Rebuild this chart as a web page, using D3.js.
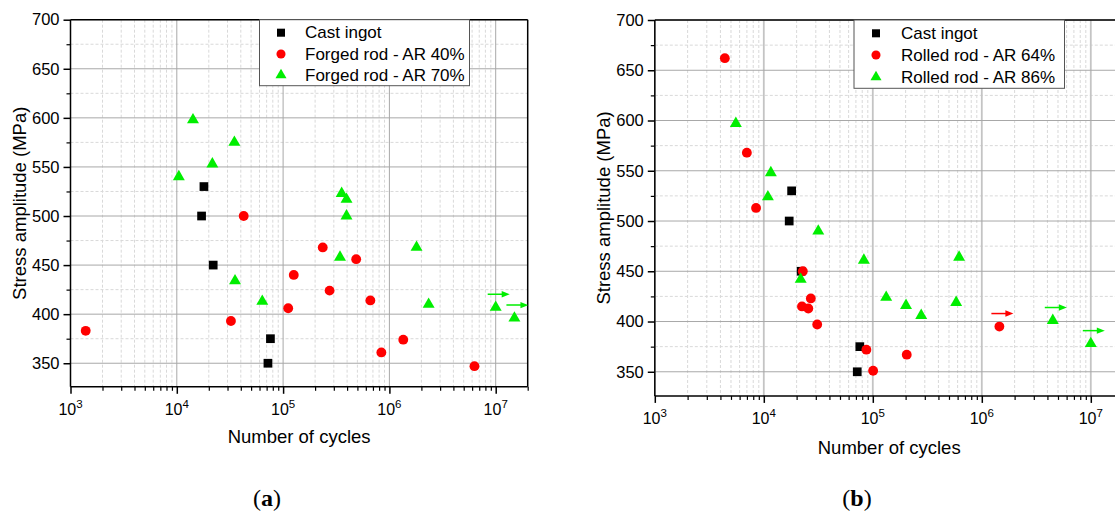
<!DOCTYPE html>
<html>
<head>
<meta charset="utf-8">
<script src="https://cdn.jsdelivr.net/npm/d3@7"></script>
<style>
  html, body { margin: 0; padding: 0; background: #fff; }
  svg { display: block; }
</style>
</head>
<body>
<svg id="fig" width="1115" height="511"></svg>
<script>
// ---- data: fatigue tests (cycles to failure, stress amplitude in MPa) ----
const castN = [18000, 17100, 22000, 76000, 72000];
const castS = [530, 500, 450, 375, 350];

const forged40N = [1390, 32300, 42600, 111700, 126000, 236000, 273700, 487000, 662000, 840000, 1350000, 6310000];
const forged40S = [383, 393, 500, 406, 440, 468, 424, 456, 414, 361, 374, 347];

const forged70N = [10450, 14200, 21600, 34800, 35300, 63700, 343000, 355600, 395000, 395000, 1800000, 2340000, 10000000, 15000000];
const forged70S = [540, 598, 553, 575, 434, 413, 458, 523, 517, 500, 468, 410, 407, 396];
const forged70Runout = [10000000, 15000000];
const forged70RunoutS = [407, 396];

const rolled64N = [4390, 6990, 8490, 22800, 22400, 25600, 27000, 30900, 87300, 100700, 204800, 1450000];
const rolled64S = [662, 568, 513, 450, 415, 413, 423, 397, 372, 351, 367, 395];
const rolled64Runout = [1450000];
const rolled64RunoutS = [395];

const rolled86N = [5540, 10900, 11600, 21800, 31600, 82800, 132700, 201700, 278000, 582000, 619000, 4480000, 10000000];
const rolled86S = [597, 524, 548, 442, 490, 461, 424, 416, 406, 419, 464, 401, 378];
const rolled86Runout = [4480000, 10000000];
const rolled86RunoutS = [401, 378];

const xDomain = [1e3, 2e7];
const yDomain = [326, 700];
const yMajorTicks = [350, 400, 450, 500, 550, 600, 650, 700];
const xMajorExp = [3, 4, 5, 6, 7];

const legendA = ["Cast ingot", "Forged rod - AR 40%", "Forged rod - AR 70%"];
const legendB = ["Cast ingot", "Rolled rod - AR 64%", "Rolled rod - AR 86%"];

// ---- styling ----
const FONT = "'Liberation Sans', Arial, sans-serif";
const colors = { cast: "#000000", red: "#ff0000", green: "#00ee00" };
const shapes = { cast: d3.symbolSquare, red: d3.symbolCircle, green: d3.symbolTriangle };
const sizes = { cast: 76, red: 76, green: 62 };

const svg = d3.select("#fig");

function zip(a, b) { return a.map((v, i) => [v, b[i]]); }

function drawPanel(p) {
  const x = d3.scaleLog().domain(xDomain).range([p.x0, p.x0 + p.decade * Math.log10(xDomain[1] / xDomain[0])]);
  const y = d3.scaleLinear().domain(yDomain).range([p.yBottom, p.yTop]);
  const g = svg.append("g");
  const [xl, xr] = x.range();
  const clipId = "clip" + p.id;
  svg.append("clipPath").attr("id", clipId)
    .append("rect").attr("x", xl).attr("y", p.yTop - 10).attr("width", xr - xl).attr("height", p.yBottom - p.yTop + 10);

  // minor grid
  const minorX = [];
  for (let e = 3; e <= 7; e++) for (let k = 2; k <= 9; k++) {
    const v = k * Math.pow(10, e);
    if (v <= xDomain[1]) minorX.push(v);
  }
  const minorY = d3.range(375, 700, 50);
  const grid = g.append("g").attr("clip-path", `url(#${clipId})`);
  grid.selectAll(".mx").data(minorX).join("line")
    .attr("x1", d => x(d)).attr("x2", d => x(d)).attr("y1", p.yTop).attr("y2", p.yBottom)
    .attr("stroke", "#d9d9d9").attr("stroke-width", 1).attr("stroke-dasharray", "3,2");
  grid.selectAll(".my").data(minorY).join("line")
    .attr("x1", xl).attr("x2", xr).attr("y1", d => y(d)).attr("y2", d => y(d))
    .attr("stroke", "#d9d9d9").attr("stroke-width", 1).attr("stroke-dasharray", "3,2");
  // major grid
  grid.selectAll(".Mx").data(xMajorExp.map(e => Math.pow(10, e))).join("line")
    .attr("x1", d => x(d)).attr("x2", d => x(d)).attr("y1", p.yTop).attr("y2", p.yBottom)
    .attr("stroke", p.gridV).attr("stroke-width", p.gridVW);
  grid.selectAll(".My").data(yMajorTicks).join("line")
    .attr("x1", xl).attr("x2", xr).attr("y1", d => y(d)).attr("y2", d => y(d))
    .attr("stroke", "#a8a8a8").attr("stroke-width", 1);

  // frame
  g.append("line").attr("x1", xl).attr("x2", xr).attr("y1", p.yTop).attr("y2", p.yTop)
    .attr("stroke", "#000").attr("stroke-width", 1.5);
  g.append("line").attr("x1", xr).attr("x2", xr).attr("y1", p.yTop).attr("y2", p.yBottom)
    .attr("stroke", "#000").attr("stroke-width", 1.5);

  // bottom axis
  const xAxis = d3.axisBottom(x).tickValues(xMajorExp.map(e => Math.pow(10, e)))
    .tickSize(7).tickFormat(() => "");
  const xa = g.append("g").attr("transform", `translate(0,${p.yBottom})`).call(xAxis);
  xa.select(".domain").attr("stroke-width", 1.5).attr("d", `M${xl},0H${xr}`);
  xa.selectAll(".tick line").attr("stroke-width", 1.5);
  const xMinorAxis = d3.axisBottom(x).tickValues(minorX).tickSize(4).tickFormat(() => "");
  const xm = g.append("g").attr("transform", `translate(0,${p.yBottom})`).call(xMinorAxis);
  xm.select(".domain").remove();
  xm.selectAll(".tick line").attr("stroke-width", 1.2);
  const xt = g.append("g").selectAll("text").data(xMajorExp).join("text")
    .attr("x", d => x(Math.pow(10, d))).attr("y", p.yBottom + 28)
    .attr("text-anchor", "middle").attr("font-family", FONT).attr("font-size", 16).attr("fill", "#000");
  xt.append("tspan").text("10");
  xt.append("tspan").attr("dy", -7).attr("font-size", 11.5).text(d => d);

  // left axis
  const yAxis = d3.axisLeft(y).tickValues(yMajorTicks).tickSize(7).tickPadding(4).tickFormat(d3.format("d"));
  const ya = g.append("g").attr("transform", `translate(${xl},0)`).call(yAxis);
  ya.select(".domain").attr("stroke-width", 1.5).attr("d", `M0,${p.yTop}V${p.yBottom}`);
  ya.selectAll(".tick line").attr("stroke-width", 1.5);
  ya.selectAll(".tick text").attr("font-family", FONT).attr("font-size", 16.5).attr("fill", "#000");
  const yMinorAxis = d3.axisLeft(y).tickValues(minorY).tickSize(4).tickFormat(() => "");
  const ym = g.append("g").attr("transform", `translate(${xl},0)`).call(yMinorAxis);
  ym.select(".domain").remove();
  ym.selectAll(".tick line").attr("stroke-width", 1.2);

  // axis titles
  g.append("text").attr("x", (xl + xr) / 2).attr("y", p.yBottom + p.xTitleDy)
    .attr("text-anchor", "middle").attr("font-family", FONT).attr("font-size", 18.5).text("Number of cycles");
  g.append("text").attr("transform", `translate(${p.yTitleX},${(p.yTop + p.yBottom) / 2}) rotate(-90)`)
    .attr("text-anchor", "middle").attr("dominant-baseline", "central")
    .attr("font-family", FONT).attr("font-size", 18.5).text("Stress amplitude (MPa)");

  // panel letter
  const lab = svg.append("text").attr("x", p.labelX).attr("y", 506)
    .attr("text-anchor", "middle").attr("font-family", "'Liberation Serif', 'DejaVu Serif', serif").attr("font-size", 24);
  lab.append("tspan").text("(");
  lab.append("tspan").attr("font-weight", "bold").text(p.letter);
  lab.append("tspan").text(")");

  // runout arrows
  const arrows = g.append("g").attr("clip-path", `url(#${clipId})`);
  p.runouts.forEach(r => {
    zip(r.n, r.s).forEach(([n, s]) => {
      const ax = x(n) - 8, ay = y(s) - 13, len = 22;
      arrows.append("line").attr("x1", ax).attr("x2", ax + len - 6).attr("y1", ay).attr("y2", ay)
        .attr("stroke", r.color).attr("stroke-width", 1.5);
      arrows.append("path").attr("d", `M${ax + len},${ay}L${ax + len - 8},${ay - 3.2}L${ax + len - 8},${ay + 3.2}Z`)
        .attr("fill", r.color);
    });
  });

  // markers
  const pts = g.append("g");
  p.series.forEach(sr => {
    pts.append("g").selectAll("path").data(zip(sr.n, sr.s)).join("path")
      .attr("transform", d => `translate(${x(d[0])},${y(d[1])})`)
      .attr("d", d3.symbol().type(shapes[sr.key]).size(sizes[sr.key]))
      .attr("fill", colors[sr.key]);
  });

  // legend
  const lg = g.append("g");
  lg.append("rect").attr("x", p.leg.x).attr("y", p.yTop).attr("width", p.leg.w).attr("height", p.leg.h)
    .attr("fill", "#fff").attr("stroke", "#555").attr("stroke-width", 1);
  p.series.forEach((sr, i) => {
    const cy = p.leg.rows[i];
    lg.append("path").attr("transform", `translate(${p.leg.mx},${cy})`)
      .attr("d", d3.symbol().type(shapes[sr.key]).size(sizes[sr.key] * 0.85)).attr("fill", colors[sr.key]);
    lg.append("text").attr("x", p.leg.tx).attr("y", cy).attr("dominant-baseline", "central")
      .attr("font-family", FONT).attr("font-size", 17).text(p.legendText[i]);
  });
}

drawPanel({
  id: "a", letter: "a", labelX: 267,
  x0: 70.5, decade: 106.3, yTop: 19.7, yBottom: 386.8,
  gridV: "#a8a8a8", gridVW: 1,
  xTitleDy: 56, yTitleX: 19,
  legendText: legendA,
  leg: { x: 259.5, w: 210, h: 66, mx: 281, tx: 305, rows: [32.7, 54, 75] },
  series: [
    { key: "cast", n: castN, s: castS },
    { key: "red", n: forged40N, s: forged40S },
    { key: "green", n: forged70N, s: forged70S }
  ],
  runouts: [{ color: colors.green, n: forged70Runout, s: forged70RunoutS }]
});

drawPanel({
  id: "b", letter: "b", labelX: 857,
  x0: 654.8, decade: 109, yTop: 20, yBottom: 395.9,
  gridV: "#c4c4c4", gridVW: 1.8,
  xTitleDy: 58, yTitleX: 603,
  legendText: legendB,
  leg: { x: 854, w: 210.5, h: 68.3, mx: 876, tx: 901, rows: [33.3, 55, 77] },
  series: [
    { key: "cast", n: castN, s: castS },
    { key: "red", n: rolled64N, s: rolled64S },
    { key: "green", n: rolled86N, s: rolled86S }
  ],
  runouts: [
    { color: colors.red, n: rolled64Runout, s: rolled64RunoutS },
    { color: colors.green, n: rolled86Runout, s: rolled86RunoutS }
  ]
});
</script>
</body>
</html>
